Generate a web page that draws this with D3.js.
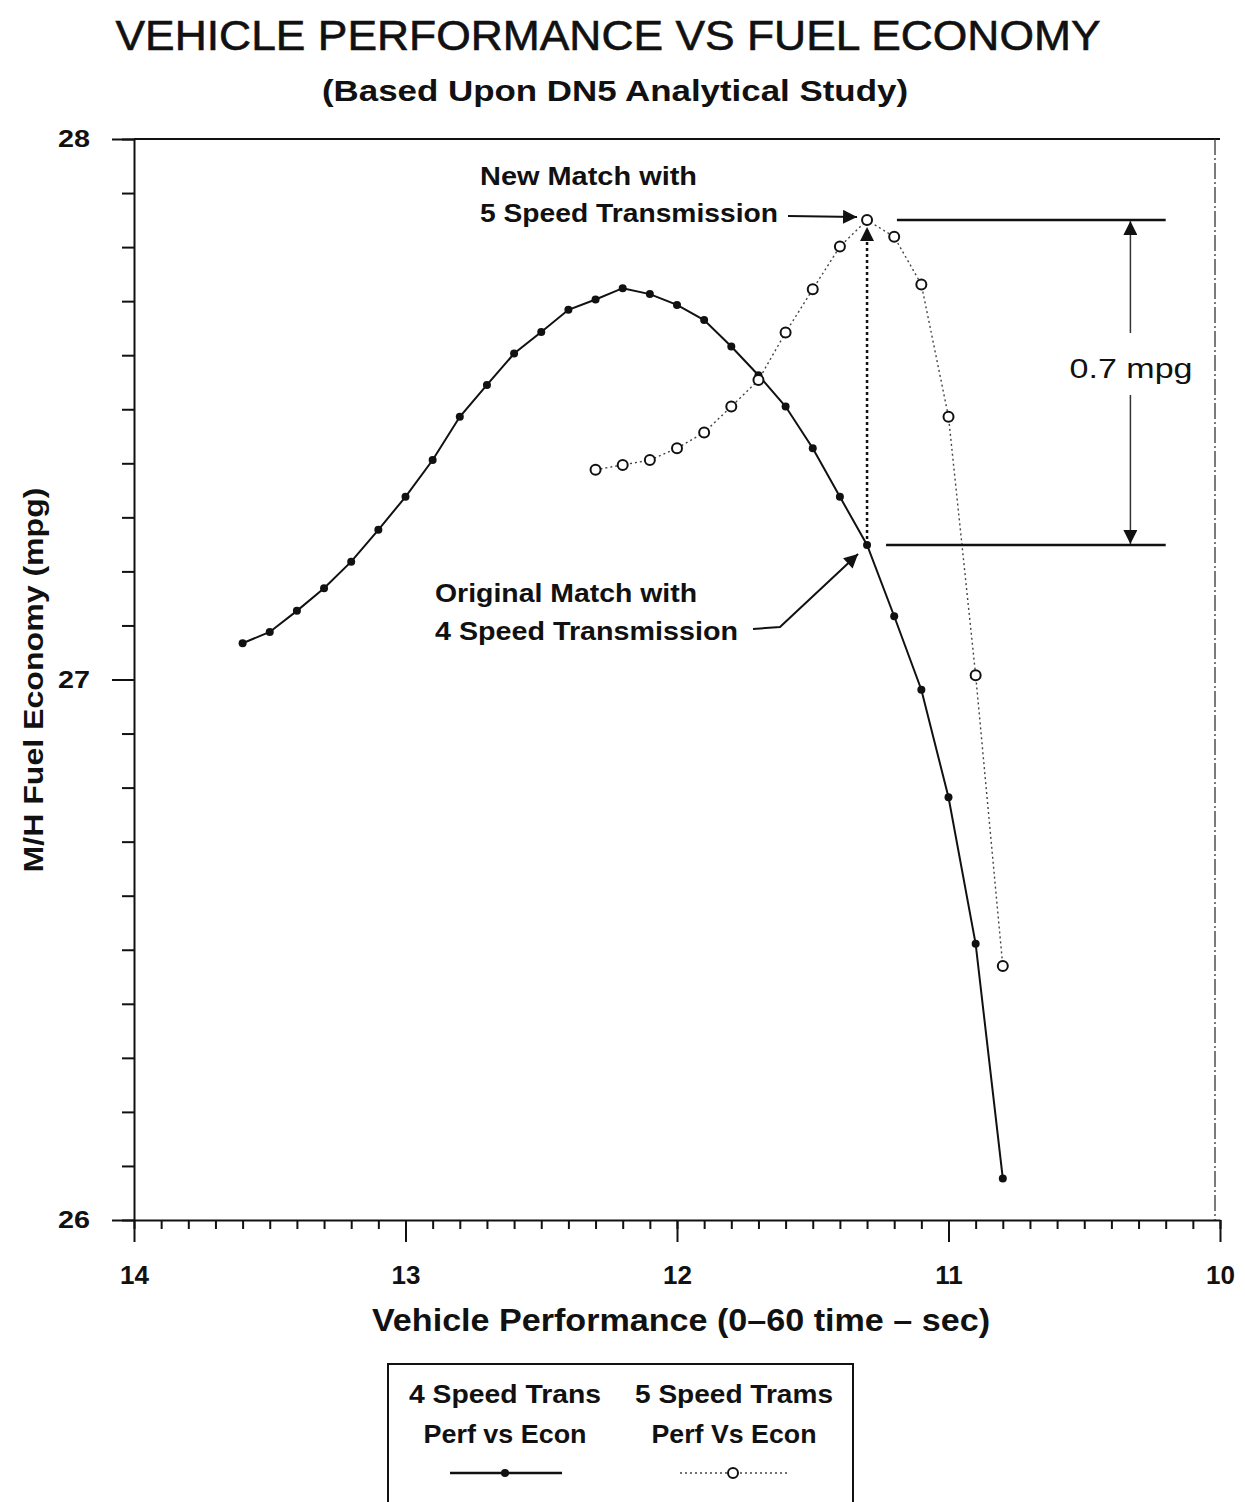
<!DOCTYPE html>
<html>
<head>
<meta charset="utf-8">
<script src="https://cdn.jsdelivr.net/npm/d3@7"></script>
<style>
  body { margin: 0; background: #fff; }
  text { font-family: "Liberation Sans", Arial, sans-serif; fill: #111; }
</style>
</head>
<body>
<div id="chart"></div>
<script>
// 4 speed transmission: 0-60 time (sec) vs fuel economy (mpg)
var perf4 = [13.6, 13.5, 13.4, 13.3, 13.2, 13.1, 13.0, 12.9, 12.8, 12.7, 12.6, 12.5, 12.4, 12.3, 12.2,
             12.1, 12.0, 11.9, 11.8, 11.7, 11.6, 11.5, 11.4, 11.3, 11.2, 11.1, 11.0, 10.9, 10.8];
var econ4 = [27.067, 27.088, 27.127, 27.169, 27.218, 27.277, 27.338, 27.406, 27.486, 27.545, 27.603, 27.643, 27.684, 27.703, 27.724,
             27.713, 27.693, 27.665, 27.616, 27.563, 27.505, 27.428, 27.338, 27.249, 27.117, 26.981, 26.782, 26.511, 26.077];

// 5 speed transmission
var perf5 = [12.3, 12.2, 12.1, 12.0, 11.9, 11.8, 11.7, 11.6, 11.5, 11.4, 11.3, 11.2, 11.1, 11.0, 10.9, 10.8];
var econ5 = [27.388, 27.397, 27.406, 27.428, 27.457, 27.505, 27.554, 27.642, 27.722, 27.801, 27.850, 27.819, 27.731, 27.486, 27.008, 26.470];

var xTicks = [14, 13, 12, 11, 10];
var yTicks = [28, 27, 26];

var origMatch = [11.3, 27.249];
var newMatch = [11.3, 27.850];

var svg = d3.select("#chart")
  .append("svg")
  .attr("width", 1245)
  .attr("height", 1502);

var x = d3.scaleLinear().domain([14, 10]).range([134, 1220]);
var y = d3.scaleLinear().domain([26, 28]).range([1220, 139]);

var defs = svg.append("defs");
defs.append("marker")
  .attr("id", "arrowBig")
  .attr("viewBox", "0 0 10 10")
  .attr("refX", 10).attr("refY", 5)
  .attr("markerWidth", 30).attr("markerHeight", 14)
  .attr("markerUnits", "userSpaceOnUse")
  .attr("orient", "auto")
  .append("path").attr("d", "M0,0 L10,5 L0,10 z").attr("fill", "#111");

// titles
svg.append("text")
  .attr("x", 608).attr("y", 50)
  .attr("text-anchor", "middle")
  .attr("font-size", 42)
  .attr("stroke", "#111").attr("stroke-width", 0.6)
  .attr("textLength", 985).attr("lengthAdjust", "spacingAndGlyphs")
  .text("VEHICLE PERFORMANCE VS FUEL ECONOMY");

svg.append("text")
  .attr("x", 615).attr("y", 101)
  .attr("text-anchor", "middle")
  .attr("font-size", 29).attr("font-weight", "bold")
  .attr("textLength", 586).attr("lengthAdjust", "spacingAndGlyphs")
  .text("(Based Upon DN5 Analytical Study)");

// frame: top and right
svg.append("line")
  .attr("x1", x(14)).attr("x2", x(10))
  .attr("y1", y(28)).attr("y2", y(28))
  .attr("stroke", "#111").attr("stroke-width", 2);
svg.append("line")
  .attr("x1", x(10) - 5).attr("x2", x(10) - 5)
  .attr("y1", y(28)).attr("y2", y(26))
  .attr("stroke", "#333").attr("stroke-width", 1.3)
  .attr("stroke-dasharray", "16,3,2,3");

// x axis
svg.append("g")
  .attr("transform", `translate(0, ${y(26)})`)
  .call(d3.axisBottom(x).ticks(40).tickSize(9).tickSizeOuter(0).tickFormat(""));
var xMajor = svg.append("g")
  .attr("transform", `translate(0, ${y(26)})`)
  .call(d3.axisBottom(x).tickValues(xTicks).tickSize(22).tickPadding(24).tickFormat(d3.format("d")));
xMajor.select(".domain").remove();
xMajor.selectAll("text").attr("font-size", 26).attr("font-weight", "bold")
  .attr("font-family", "Liberation Sans, Arial, sans-serif").attr("fill", "#111");

// y axis
svg.append("g")
  .attr("transform", `translate(${x(14)}, 0)`)
  .call(d3.axisLeft(y).ticks(20).tickSize(12).tickSizeOuter(0).tickFormat(""));
var yMajor = svg.append("g")
  .attr("transform", `translate(${x(14)}, 0)`)
  .call(d3.axisLeft(y).tickValues(yTicks).tickSize(22).tickPadding(22).tickFormat(d3.format("d")));
yMajor.select(".domain").remove();
yMajor.selectAll("text").attr("font-size", 24).attr("font-weight", "bold")
  .attr("font-family", "Liberation Sans, Arial, sans-serif").attr("fill", "#111")
  .attr("textLength", 32).attr("lengthAdjust", "spacingAndGlyphs");

svg.selectAll(".domain").attr("stroke", "#111").attr("stroke-width", 2);
svg.selectAll(".tick line").attr("stroke", "#111").attr("stroke-width", 2);

// axis titles
svg.append("text")
  .attr("x", 681).attr("y", 1331)
  .attr("text-anchor", "middle")
  .attr("font-size", 31).attr("font-weight", "bold")
  .attr("textLength", 618).attr("lengthAdjust", "spacingAndGlyphs")
  .text("Vehicle Performance (0\u201360 time \u2013 sec)");

svg.append("text")
  .attr("transform", "translate(43, 680) rotate(-90)")
  .attr("text-anchor", "middle")
  .attr("font-size", 28).attr("font-weight", "bold")
  .attr("textLength", 385).attr("lengthAdjust", "spacingAndGlyphs")
  .text("M/H Fuel Economy (mpg)");

// series
var data4 = perf4.map((p, i) => [p, econ4[i]]);
var data5 = perf5.map((p, i) => [p, econ5[i]]);
var line = d3.line().x(d => x(d[0])).y(d => y(d[1]));

svg.append("path")
  .datum(data5)
  .attr("d", line)
  .attr("fill", "none")
  .attr("stroke", "#444")
  .attr("stroke-width", 1.4)
  .attr("stroke-dasharray", "2,3");

svg.append("path")
  .datum(data4)
  .attr("d", line)
  .attr("fill", "none")
  .attr("stroke", "#111")
  .attr("stroke-width", 2);

svg.selectAll("circle.p4")
  .data(data4)
  .enter().append("circle")
  .attr("class", "p4")
  .attr("cx", d => x(d[0]))
  .attr("cy", d => y(d[1]))
  .attr("r", 4)
  .attr("fill", "#111");

svg.selectAll("circle.p5")
  .data(data5)
  .enter().append("circle")
  .attr("class", "p5")
  .attr("cx", d => x(d[0]))
  .attr("cy", d => y(d[1]))
  .attr("r", 5)
  .attr("fill", "#fff")
  .attr("stroke", "#111")
  .attr("stroke-width", 2);

// dotted arrow from original match up to new match
svg.append("line")
  .attr("x1", x(origMatch[0])).attr("x2", x(newMatch[0]))
  .attr("y1", y(origMatch[1]) - 6).attr("y2", y(newMatch[1]) + 7)
  .attr("stroke", "#111").attr("stroke-width", 2.5)
  .attr("stroke-dasharray", "3,3")
  .attr("marker-end", "url(#arrowBig)");

// dimension lines
var dimX = x(10.33);
svg.append("line")
  .attr("x1", x(11.19)).attr("x2", x(10.2))
  .attr("y1", y(newMatch[1])).attr("y2", y(newMatch[1]))
  .attr("stroke", "#111").attr("stroke-width", 2.5);
svg.append("line")
  .attr("x1", x(11.23)).attr("x2", x(10.2))
  .attr("y1", y(origMatch[1])).attr("y2", y(origMatch[1]))
  .attr("stroke", "#111").attr("stroke-width", 2.5);
svg.append("line")
  .attr("x1", dimX).attr("x2", dimX)
  .attr("y1", 333).attr("y2", y(newMatch[1]) + 1)
  .attr("stroke", "#333").attr("stroke-width", 1.5)
  .attr("marker-end", "url(#arrowBig)");
svg.append("line")
  .attr("x1", dimX).attr("x2", dimX)
  .attr("y1", 395).attr("y2", y(origMatch[1]) - 1)
  .attr("stroke", "#333").attr("stroke-width", 1.5)
  .attr("marker-end", "url(#arrowBig)");
svg.append("text")
  .attr("x", 1131).attr("y", 378)
  .attr("text-anchor", "middle")
  .attr("font-size", 28)
  .attr("textLength", 123).attr("lengthAdjust", "spacingAndGlyphs")
  .text("0.7 mpg");

// annotation texts
svg.append("text")
  .attr("x", 480).attr("y", 185)
  .attr("font-size", 26).attr("font-weight", "bold")
  .attr("textLength", 217).attr("lengthAdjust", "spacingAndGlyphs")
  .text("New Match with");
svg.append("text")
  .attr("x", 480).attr("y", 222)
  .attr("font-size", 26).attr("font-weight", "bold")
  .attr("textLength", 298).attr("lengthAdjust", "spacingAndGlyphs")
  .text("5 Speed Transmission");
svg.append("line")
  .attr("x1", 788).attr("x2", x(newMatch[0]) - 10)
  .attr("y1", 216).attr("y2", 217)
  .attr("stroke", "#111").attr("stroke-width", 2)
  .attr("marker-end", "url(#arrowBig)");

svg.append("text")
  .attr("x", 435).attr("y", 602)
  .attr("font-size", 26).attr("font-weight", "bold")
  .attr("textLength", 262).attr("lengthAdjust", "spacingAndGlyphs")
  .text("Original Match with");
svg.append("text")
  .attr("x", 435).attr("y", 640)
  .attr("font-size", 26).attr("font-weight", "bold")
  .attr("textLength", 303).attr("lengthAdjust", "spacingAndGlyphs")
  .text("4 Speed Transmission");
svg.append("polyline")
  .attr("points", `753,629 780,627 ${x(origMatch[0]) - 9},${y(origMatch[1]) + 9}`)
  .attr("fill", "none")
  .attr("stroke", "#111").attr("stroke-width", 2)
  .attr("marker-end", "url(#arrowBig)");

// legend
var legend = svg.append("g");
legend.append("rect")
  .attr("x", 388).attr("y", 1364)
  .attr("width", 465).attr("height", 150)
  .attr("fill", "none")
  .attr("stroke", "#111").attr("stroke-width", 2);

var legendItems = [
  { l1: "4 Speed Trans", l2: "Perf vs Econ", cx: 505, w1: 192, w2: 163, x1: 450, x2: 562, open: false },
  { l1: "5 Speed Trams", l2: "Perf Vs Econ", cx: 734, w1: 198, w2: 165, x1: 680, x2: 787, open: true }
];
legendItems.forEach(function(it) {
  legend.append("text")
    .attr("x", it.cx).attr("y", 1403)
    .attr("text-anchor", "middle")
    .attr("font-size", 25).attr("font-weight", "bold")
    .attr("textLength", it.w1).attr("lengthAdjust", "spacingAndGlyphs")
    .text(it.l1);
  legend.append("text")
    .attr("x", it.cx).attr("y", 1443)
    .attr("text-anchor", "middle")
    .attr("font-size", 25).attr("font-weight", "bold")
    .attr("textLength", it.w2).attr("lengthAdjust", "spacingAndGlyphs")
    .text(it.l2);
  legend.append("line")
    .attr("x1", it.x1).attr("x2", it.x2)
    .attr("y1", 1473).attr("y2", 1473)
    .attr("stroke", it.open ? "#444" : "#111")
    .attr("stroke-width", it.open ? 1.4 : 2.5)
    .attr("stroke-dasharray", it.open ? "2,3" : null);
  legend.append("circle")
    .attr("cx", it.open ? 733 : 505).attr("cy", 1473)
    .attr("r", it.open ? 5 : 4)
    .attr("fill", it.open ? "#fff" : "#111")
    .attr("stroke", "#111").attr("stroke-width", it.open ? 2 : 0);
});
</script>
</body>
</html>
